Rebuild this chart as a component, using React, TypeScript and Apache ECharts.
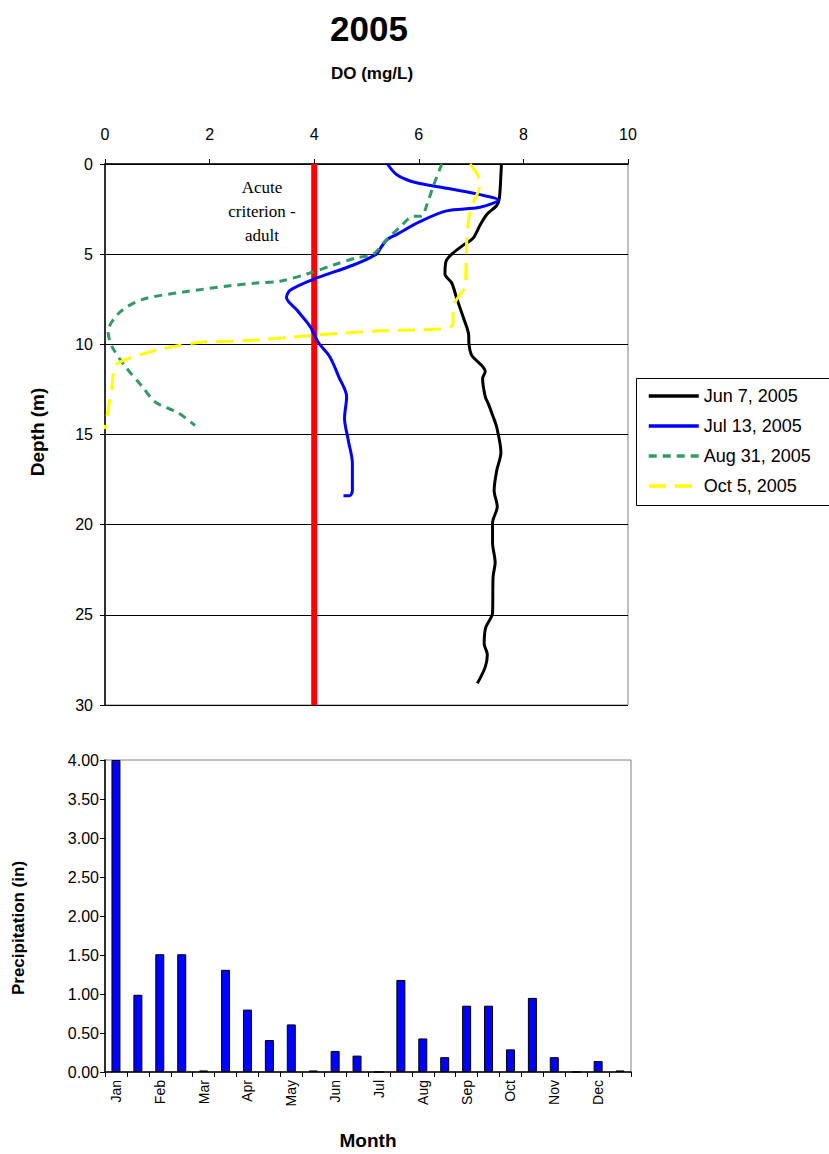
import React, { useEffect, useRef } from "react";
import * as echarts from "echarts";

const FONT = "'Liberation Sans', Arial, sans-serif";

// DO profiles (mg/L) vs depth (m)
const junDO = [7.58, 7.57, 7.54, 7.49, 7.3, 7.17, 7.04, 6.85, 6.63, 6.52, 6.5, 6.63, 6.72, 6.85, 6.95, 6.96, 7.01, 7.27, 7.22, 7.27, 7.33, 7.42, 7.49, 7.57, 7.49, 7.44, 7.5, 7.41, 7.41, 7.46, 7.42, 7.41, 7.28, 7.25, 7.31, 7.27, 7.12];
const junDepth = [0, 0.6, 1.9, 2.3, 2.8, 3.4, 4.1, 4.5, 5.0, 5.4, 6.1, 6.6, 7.4, 8.5, 9.4, 10.0, 10.6, 11.5, 11.9, 12.9, 13.3, 14.0, 14.6, 16.0, 17.0, 18.1, 19.0, 19.9, 21.0, 22.1, 22.9, 24.9, 25.7, 26.6, 27.2, 27.9, 28.8];

const julDO = [5.4, 5.58, 5.9, 6.53, 7.17, 7.52, 7.17, 6.53, 6.02, 5.58, 5.39, 5.26, 5.19, 4.75, 3.98, 3.54, 3.47, 3.67, 3.92, 4.08, 4.3, 4.47, 4.62, 4.58, 4.65, 4.73, 4.73, 4.68, 4.56];
const julDepth = [0, 0.6, 1.0, 1.35, 1.7, 2.0, 2.4, 2.6, 3.2, 3.9, 4.2, 4.7, 5.0, 5.6, 6.4, 7.0, 7.4, 8.1, 9.0, 9.9, 10.7, 11.8, 12.9, 14.1, 15.3, 16.6, 18.1, 18.4, 18.4];

const augDO = [6.44, 6.28, 6.15, 6.05, 5.9, 5.64, 5.35, 5.13, 4.81, 4.37, 3.86, 3.35, 2.9, 2.39, 1.5, 0.73, 0.29, 0.06, 0.13, 0.38, 0.7, 0.96, 1.4, 1.72];
const augDepth = [0, 1.2, 2.3, 2.9, 2.9, 3.5, 4.3, 5.0, 5.2, 5.6, 6.1, 6.5, 6.6, 6.75, 7.1, 7.5, 8.2, 9.3, 10.1, 11.2, 12.3, 13.2, 13.8, 14.5];

const octDO = [6.98, 7.17, 7.14, 6.98, 6.92, 6.9, 6.88, 6.66, 6.65, 6.53, 6.02, 5.26, 3.98, 3.57, 2.68, 1.78, 1.02, 0.64, 0.35, 0.19, 0.13, 0.06, 0.0];
const octDepth = [0, 1.0, 1.5, 2.6, 4.1, 6.0, 6.8, 7.9, 8.9, 9.1, 9.2, 9.25, 9.5, 9.6, 9.8, 9.9, 10.3, 10.6, 10.9, 11.2, 12.4, 13.6, 14.7];

const criterionDO = [4, 4];
const criterionDepth = [0, 30];

const seriesNames = ["Jun 7, 2005", "Jul 13, 2005", "Aug 31, 2005", "Oct 5, 2005"];

// Precipitation, two values per month
const months = ["Jan", "Feb", "Mar", "Apr", "May", "Jun", "Jul", "Aug", "Sep", "Oct", "Nov", "Dec"];
const precipCategories = months.flatMap((m) => [m + "-1", m + "-2"]);
const precipValues = [4.0, 0.99, 1.51, 1.51, 0.02, 1.31, 0.8, 0.41, 0.61, 0.02, 0.27, 0.21, 0, 1.18, 0.43, 0.19, 0.85, 0.85, 0.29, 0.95, 0.19, 0, 0.14, 0.02];

const zip = (xs: number[], ys: number[]) => xs.map((x, i) => [x, ys[i]]);

export default function App() {
  const ref = useRef<HTMLDivElement>(null);
  useEffect(() => {
    if (!ref.current) return;
    const chart = echarts.init(ref.current, null, { renderer: "svg" });
    const lineBase = { type: "line", xAxisIndex: 0, yAxisIndex: 0, symbol: "none", smooth: 0.3, z: 3 } as any;
    chart.setOption({
      animation: false,
      backgroundColor: "#ffffff",
      textStyle: { fontFamily: FONT },
      grid: [
        { left: 105, top: 164, width: 523, height: 541, show: true, borderColor: "#808080", borderWidth: 1, backgroundColor: "transparent" },
        { left: 105, top: 760, width: 526, height: 312, show: true, borderColor: "#808080", borderWidth: 1, backgroundColor: "transparent" },
      ],
      xAxis: [
        {
          gridIndex: 0, type: "value", position: "top", min: 0, max: 10, interval: 2,
          axisLine: { show: true, lineStyle: { color: "#000", width: 1.5 } },
          axisTick: { show: true, inside: false, length: 5, lineStyle: { color: "#000" } },
          axisLabel: { color: "#000", fontSize: 16, fontFamily: FONT, margin: 22 },
          splitLine: { show: false },
        },
        {
          gridIndex: 1, type: "category", data: precipCategories, boundaryGap: true,
          axisLine: { show: true, lineStyle: { color: "#000", width: 1.5 } },
          axisTick: { show: true, interval: 0, length: 5, lineStyle: { color: "#000" } },
          axisLabel: { color: "#000", fontSize: 14, fontFamily: FONT, rotate: 90, interval: 1, margin: 8, formatter: (v: string) => v.split("-")[0] },
          splitLine: { show: false },
        },
      ],
      yAxis: [
        {
          gridIndex: 0, type: "value", inverse: true, min: 0, max: 30, interval: 5,
          axisLine: { show: true, lineStyle: { color: "#000", width: 1.5 } },
          axisTick: { show: true, length: 5, lineStyle: { color: "#000" } },
          axisLabel: { color: "#000", fontSize: 16, fontFamily: FONT, margin: 12 },
          splitLine: { show: true, lineStyle: { color: "#000", width: 1 } },
        },
        {
          gridIndex: 1, type: "value", min: 0, max: 4, interval: 0.5,
          axisLine: { show: true, lineStyle: { color: "#000", width: 1.5 } },
          axisTick: { show: true, length: 5, lineStyle: { color: "#000" } },
          axisLabel: { color: "#000", fontSize: 16, fontFamily: FONT, margin: 6, formatter: (v: number) => v.toFixed(2) },
          splitLine: { show: false },
        },
      ],
      legend: {
        orient: "vertical", left: 642, top: 382, itemWidth: 50, itemHeight: 14, itemGap: 12,
        data: seriesNames,
        itemStyle: { opacity: 0 },
        lineStyle: { width: 3.5 },
        textStyle: { fontSize: 18, fontFamily: FONT, color: "#000" },
      },
      graphic: [
        { type: "rect", left: 634, top: 376, shape: { width: 200, height: 127 }, style: { fill: "none", stroke: "#000", lineWidth: 1 }, silent: true },
        { type: "text", x: 369, y: 28, style: { text: "2005", fontSize: 35, fontWeight: "bold", fontFamily: FONT, fill: "#000", align: "center", verticalAlign: "middle" } },
        { type: "text", x: 372, y: 73, style: { text: "DO (mg/L)", fontSize: 17, fontWeight: "bold", fontFamily: FONT, fill: "#000", align: "center", verticalAlign: "middle" } },
        { type: "text", x: 262, y: 211, style: { text: "Acute\ncriterion -\nadult", fontSize: 17, lineHeight: 24, fontFamily: "'Liberation Serif', 'Times New Roman', serif", fill: "#000", align: "center", verticalAlign: "middle" } },
        { type: "text", x: 37, y: 432, rotation: Math.PI / 2, style: { text: "Depth (m)", fontSize: 19, fontWeight: "bold", fontFamily: FONT, fill: "#000", align: "center", verticalAlign: "middle" } },
        { type: "text", x: 18, y: 928, rotation: Math.PI / 2, style: { text: "Precipitation (in)", fontSize: 17, fontWeight: "bold", fontFamily: FONT, fill: "#000", align: "center", verticalAlign: "middle" } },
        { type: "text", x: 368, y: 1140, style: { text: "Month", fontSize: 19, fontWeight: "bold", fontFamily: FONT, fill: "#000", align: "center", verticalAlign: "middle" } },
      ],
      series: [
        { ...lineBase, name: "Acute criterion", data: zip(criterionDO, criterionDepth), smooth: false, lineStyle: { color: "#ff0000", width: 6 }, z: 2 },
        { ...lineBase, name: seriesNames[0], data: zip(junDO, junDepth), color: "#000000", lineStyle: { color: "#000000", width: 3 } },
        { ...lineBase, name: seriesNames[1], data: zip(julDO, julDepth), color: "#0000ff", lineStyle: { color: "#0000ff", width: 3 } },
        { ...lineBase, name: seriesNames[2], data: zip(augDO, augDepth), color: "#339966", lineStyle: { color: "#339966", width: 3, type: [8, 6] } },
        { ...lineBase, name: seriesNames[3], data: zip(octDO, octDepth), color: "#ffff00", lineStyle: { color: "#ffff00", width: 3, type: [17, 9] } },
        {
          type: "bar", xAxisIndex: 1, yAxisIndex: 1, data: precipValues, barWidth: 9,
          itemStyle: { color: "#0000ff", borderColor: "#000", borderWidth: 1 },
        },
      ],
    });
    return () => chart.dispose();
  }, []);
  return <div ref={ref} style={{ position: "absolute", left: 0, top: 0, width: 829, height: 1154 }} />;
}
